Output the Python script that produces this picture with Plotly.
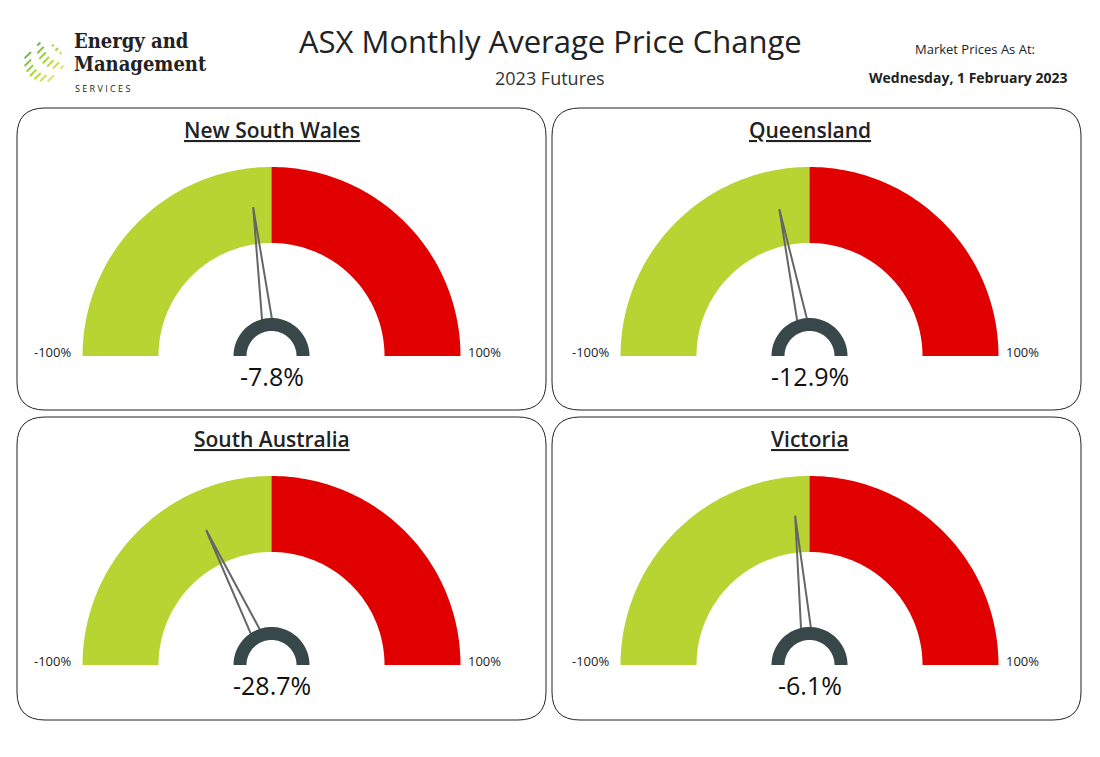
import numpy as np
import plotly.graph_objects as go

regions = ['New South Wales', 'Queensland', 'South Australia', 'Victoria']
changes = [-7.8, -12.9, -28.7, -6.1]
range_min = -100
range_max = 100
title = 'ASX Monthly Average Price Change'
subtitle = '2023 Futures'
date_label = 'Wednesday, 1 February 2023'

W, H = 1100, 757
PAD = 8  # browser body margin
GREEN = '#b8d433'
RED = '#e00000'
HUB = '#37474a'
FONT = 'Open Sans'

# panel boxes (x0, y0, x1, y1) in pixels
boxes = [(17, 108, 546, 410), (552, 108, 1081, 410),
         (17, 417, 546, 720), (552, 417, 1081, 720)]

fig = go.Figure()
shapes = []
annotations = []


def ring(cx, cy, r_out, r_in, a0, a1, n=80):
    t = np.linspace(np.radians(a0), np.radians(a1), n)
    xs = list(cx + r_out * np.cos(t)) + list(cx + r_in * np.cos(t[::-1]))
    ys = list(cy - r_out * np.sin(t)) + list(cy - r_in * np.sin(t[::-1]))
    return xs + [xs[0]], ys + [ys[0]]


def rounded_path(x0, y0, x1, y1, r):
    return (f'M{x0+r},{y0} L{x1-r},{y0} Q{x1},{y0} {x1},{y0+r} L{x1},{y1-r} '
            f'Q{x1},{y1} {x1-r},{y1} L{x0+r},{y1} Q{x0},{y1} {x0},{y1-r} '
            f'L{x0},{y0+r} Q{x0},{y0} {x0+r},{y0} Z')


for name, val, (x0, y0, x1, y1) in zip(regions, changes, boxes):
    shapes.append(dict(type='path', path=rounded_path(x0, y0, x1, y1, 28),
                       line=dict(color='#222', width=1), xref='x', yref='y', layer='below'))
    cx = (x0 + x1) / 2 - (10 if x0 < 300 else 7)
    cy = y0 + 248
    r_out, r_in = 189, 113
    # green half (min..0) and red half (0..max)
    xs, ys = ring(cx, cy, r_out, r_in, 90, 180)
    fig.add_trace(go.Scatter(x=xs, y=ys, fill='toself', fillcolor=GREEN, mode='none', hoverinfo='skip'))
    xs, ys = ring(cx, cy, r_out, r_in, 0, 90)
    fig.add_trace(go.Scatter(x=xs, y=ys, fill='toself', fillcolor=RED, mode='none', hoverinfo='skip'))
    # needle
    frac = (val - range_min) / (range_max - range_min)
    ang = np.radians(180 - 180 * frac)
    tip = (cx + 150 * np.cos(ang), cy - 150 * np.sin(ang))
    perp = ang + np.pi / 2
    bx, by = cx + 36 * np.cos(ang), cy - 36 * np.sin(ang)
    b1 = (bx + 5 * np.cos(perp), by - 5 * np.sin(perp))
    b2 = (bx - 5 * np.cos(perp), by + 5 * np.sin(perp))
    fig.add_trace(go.Scatter(x=[b1[0], tip[0], b2[0]], y=[b1[1], tip[1], b2[1]],
                             mode='lines', line=dict(color='#666', width=2), hoverinfo='skip'))
    # hub
    xs, ys = ring(cx, cy, 38, 25, 0, 180)
    fig.add_trace(go.Scatter(x=xs, y=ys, fill='toself', fillcolor=HUB, mode='none', hoverinfo='skip'))
    annotations += [
        dict(x=cx, y=y0 + 22, text=f'<u>{name}</u>', font=dict(size=21, color='#222', weight=600)),
        dict(x=cx, y=cy + 20, text=f'{val:.1f}%', font=dict(size=25, color='#111')),
        dict(x=cx - r_out - 30, y=cy - 4, text=f'{range_min}%', font=dict(size=13, color='#222')),
        dict(x=cx + r_out + 24, y=cy - 4, text=f'{range_max}%', font=dict(size=13, color='#222')),
    ]

annotations += [
    dict(x=550, y=41, text=title, font=dict(size=31, color='#222')),
    dict(x=550, y=78, text=subtitle, font=dict(size=18, color='#333')),
    dict(x=975, y=49, text='Market Prices As At:', font=dict(size=13, color='#222')),
    dict(x=968, y=77, text=f'<b>{date_label}</b>', font=dict(size=14, color='#222')),
    dict(x=72, y=41, text='<b>Energy and</b>', xanchor='left',
         font=dict(size=20, color='#222', family='DejaVu Serif Condensed')),
    dict(x=72, y=64, text='<b>Management</b>', xanchor='left',
         font=dict(size=20, color='#222', family='DejaVu Serif Condensed')),
    dict(x=73, y=88, text='S E R V I C E S', xanchor='left', font=dict(size=9, color='#222')),
]
for a in annotations:
    a.setdefault('xref', 'x')
    a.setdefault('yref', 'y')
    a['showarrow'] = False
    a['font'].setdefault('family', FONT)

# logo stripes
colors = ['#6cbf3a', '#80c63b', '#93cd3d', '#a7d440', '#bada46', '#cce04e', '#dde65a']
for i in range(7):
    off = (i - 3) * 5.5
    L = np.sqrt(max(0, 20 ** 2 - off ** 2))
    cxl, cyl = 44 + off * 0.7, 62 + off * 0.7
    shapes.append(dict(type='line', xref='x', yref='y',
                       x0=cxl - L * 0.7, y0=cyl + L * 0.7, x1=cxl + L * 0.7, y1=cyl - L * 0.7,
                       line=dict(color=colors[i], width=2, dash='dash')))

fig.update_layout(
    width=W, height=H, margin=dict(l=0, r=0, t=0, b=0), showlegend=False,
    plot_bgcolor='white', paper_bgcolor='white', shapes=shapes, annotations=annotations,
    xaxis=dict(range=[PAD, W + PAD], visible=False, fixedrange=True),
    yaxis=dict(range=[H + PAD, PAD], visible=False, fixedrange=True),
)

fig.write_html('out.html')
